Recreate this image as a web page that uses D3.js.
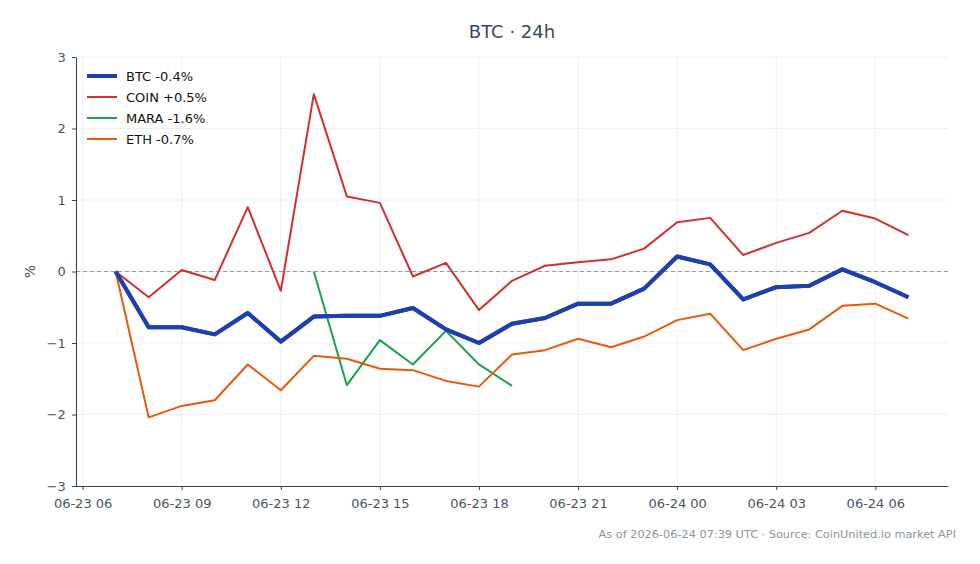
<!DOCTYPE html>
<html><head><meta charset="utf-8">
<script src="https://cdn.jsdelivr.net/npm/d3@7"></script>
<style>body{margin:0;background:#fff}svg{display:block}text{font-family:"DejaVu Sans",sans-serif}</style>
</head><body><svg id="c" width="980" height="564"></svg>
<script>
const hours = d3.range(25); // hours after 2026-06-23 07:00 UTC
const btc  = [0,-0.78,-0.78,-0.88,-0.58,-0.98,-0.63,-0.62,-0.62,-0.51,-0.81,-1.0,-0.73,-0.65,-0.45,-0.45,-0.24,0.21,0.10,-0.39,-0.22,-0.20,0.03,-0.15,-0.36];
const coin = [0,-0.36,0.02,-0.12,0.90,-0.27,2.48,1.05,0.96,-0.07,0.12,-0.54,-0.13,0.08,0.13,0.17,0.32,0.69,0.75,0.23,0.40,0.54,0.85,0.74,0.51];
const mara = [null,null,null,null,null,null,0,-1.59,-0.96,-1.30,-0.83,-1.30,-1.60,null,null,null,null,null,null,null,null,null,null,null,null];
const eth  = [0,-2.04,-1.88,-1.80,-1.30,-1.66,-1.18,-1.22,-1.36,-1.38,-1.53,-1.61,-1.16,-1.10,-0.94,-1.06,-0.91,-0.68,-0.59,-1.10,-0.94,-0.81,-0.48,-0.45,-0.66];
const seriesNames = ["BTC -0.4%","COIN +0.5%","MARA -1.6%","ETH -0.7%"];
const seriesColors = ["#1e40af","#d32f2f","#16a34a","#e8590c"];
const seriesWidths = [4,2,2,2];
const yTicks = [-3,-2,-1,0,1,2,3];
const title = "BTC · 24h";
const footer = "As of 2026-06-24 07:39 UTC · Source: CoinUnited.io market API";

const start = Date.UTC(2026,5,23,7,0);
const times = hours.map(h => new Date(start + h*3600e3));
const series = [btc,coin,mara,eth];

const svg = d3.select("#c");
const L=76,R=948,T=57,B=486;
const span = 24*3600e3, pad = span*0.05;
const x = d3.scaleUtc().domain([new Date(start - pad), new Date(start + span + pad)]).range([L,R]);
const y = d3.scaleLinear().domain([-3,3]).range([B,T]);

const xTicks = d3.range(0,9).map(i => new Date(Date.UTC(2026,5,23,6) + i*3*3600e3));
const fmt = d3.utcFormat("%m-%d %H");

// grid
const g = svg.append("g");
g.selectAll(".vg").data(xTicks).join("line").attr("x1",d=>x(d)).attr("x2",d=>x(d)).attr("y1",T).attr("y2",B).attr("stroke","#e8ebf0").attr("stroke-width",0.8);
g.selectAll(".hg").data(yTicks).join("line").attr("x1",L).attr("x2",R).attr("y1",d=>y(d)).attr("y2",d=>y(d)).attr("stroke","#e8ebf0").attr("stroke-width",0.8);

// zero line
svg.append("line").attr("x1",L).attr("x2",R).attr("y1",y(0)).attr("y2",y(0)).attr("stroke","#8e9bb3").attr("stroke-width",1.1).attr("stroke-dasharray","4,3");

// axes
const ax = svg.append("g").attr("transform",`translate(0,${B})`).call(d3.axisBottom(x).tickValues(xTicks).tickFormat(fmt).tickSize(4).tickSizeOuter(0));
const ay = svg.append("g").attr("transform",`translate(${L},0)`).call(d3.axisLeft(y).tickValues(yTicks).tickFormat(d=>d<0?"\u2212"+Math.abs(d):d).tickSize(4).tickSizeOuter(0));
[ax,ay].forEach(a=>{a.select(".domain").attr("stroke","#3b4556").attr("stroke-width",1.1);a.selectAll(".tick line").attr("stroke","#3b4556");a.selectAll(".tick text").attr("fill","#4b5563").attr("font-size",13).attr("font-family","DejaVu Sans");});
ax.selectAll(".tick text").attr("dy","1.15em");
ay.selectAll(".tick text").attr("dx","-0.25em");

// lines
const line = d3.line().defined(d=>d.v!=null).x(d=>x(d.t)).y(d=>y(d.v));
series.forEach((s,i)=>{
  svg.append("path").datum(s.map((v,j)=>({t:times[j],v}))).attr("d",line).attr("fill","none")
   .attr("stroke",seriesColors[i]).attr("stroke-width",seriesWidths[i]).attr("stroke-linejoin","round");
});
// redraw BTC on top
svg.append("path").datum(btc.map((v,j)=>({t:times[j],v}))).attr("d",line).attr("fill","none").attr("stroke",seriesColors[0]).attr("stroke-width",seriesWidths[0]).attr("stroke-linejoin","round");

// legend
const lg = svg.append("g");
seriesNames.forEach((n,i)=>{
  const yy = 76 + i*21;
  lg.append("line").attr("x1",87).attr("x2",117).attr("y1",yy).attr("y2",yy).attr("stroke",seriesColors[i]).attr("stroke-width",seriesWidths[i]);
  lg.append("text").attr("x",126).attr("y",yy+4.5).attr("font-size",13).attr("fill","#111").text(n);
});

// title, labels
svg.append("text").attr("x",(L+R)/2).attr("y",38).attr("text-anchor","middle").attr("font-size",18).attr("fill","#3d4a5c").text(title);
svg.append("text").attr("transform",`translate(35,${(T+B)/2}) rotate(-90)`).attr("text-anchor","middle").attr("font-size",14).attr("fill","#4b5563").text("%");
svg.append("text").attr("x",956).attr("y",538).attr("text-anchor","end").attr("font-size",11.3).attr("fill","#8a94a3").text(footer);
</script></body></html>
